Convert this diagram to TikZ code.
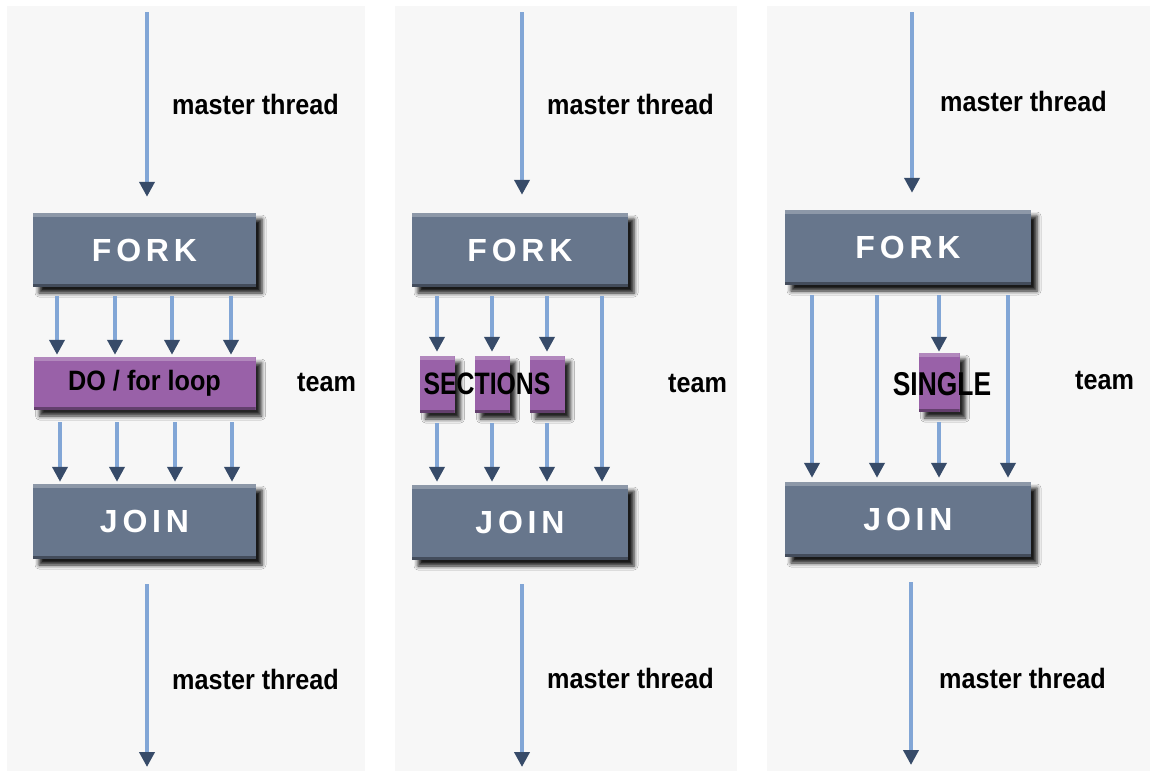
\documentclass[tikz,border=0pt]{standalone}
\usepackage{fontspec}
\setmainfont{Liberation Sans}
\newfontfamily\labelfont[FakeStretch=0.9]{Liberation Sans}
\newfontfamily\narrowfont[FakeStretch=0.8]{Liberation Sans}
\newfontfamily\boxfont[LetterSpace=15]{Liberation Sans}
\usetikzlibrary{arrows.meta,shadows.blur}

\definecolor{panelgray}{RGB}{247,247,247}
\definecolor{slate}{RGB}{103,118,140}
\definecolor{teampurple}{RGB}{153,97,168}
\definecolor{threadblue}{RGB}{130,166,214}
\definecolor{tipblue}{RGB}{55,75,105}

\tikzset{
  bevel/.style={path picture={
      \fill[white,opacity=0.25] (path picture bounding box.north west) rectangle ([yshift=-4pt]path picture bounding box.north east);
      \fill[black,opacity=0.35] (path picture bounding box.south west) rectangle ([yshift=3pt]path picture bounding box.south east);}},
  phase/.style={fill=slate, bevel, inner sep=0pt, text=white,
      font=\boxfont\bfseries\fontsize{32}{34}\selectfont,
      blur shadow={shadow xshift=6pt, shadow yshift=-6pt, shadow blur radius=4pt, shadow opacity=90}},
  work/.style={fill=teampurple, bevel, inner sep=0pt,
      font=\labelfont\bfseries\fontsize{28}{30}\selectfont,
      blur shadow={shadow xshift=6pt, shadow yshift=-6pt, shadow blur radius=4pt, shadow opacity=85}},
  thread/.style={line width=4pt, threadblue, -{Triangle[width=15pt,length=15pt,color=tipblue]}},
  caption/.style={font=\labelfont\bfseries\fontsize{28}{30}\selectfont, anchor=west, inner sep=0pt},
}

\begin{document}
\begin{tikzpicture}[x=1pt,y=-1pt]

    % Page and the three grey panels
    \fill[white] (0,0) rectangle (1150,771);
    \useasboundingbox (0,0) rectangle (1150,771);
    \fill[panelgray] (7,6) rectangle (365,771);
    \fill[panelgray] (395,6) rectangle (737,771);
    \fill[panelgray] (767,6) rectangle (1150,771);

    % ---------- Panel 1: DO / for loop ----------
    \node[phase, minimum width=223pt, minimum height=74pt] (fork1) at (144.5,250) {FORK};
    \node[work, minimum width=222pt, minimum height=53pt] (do1) at (144.5,383.5) {DO / for loop};
    \node[phase, minimum width=223pt, minimum height=75pt] (join1) at (144.5,521.5) {JOIN};

    \coordinate (in1) at (147,12);
    \coordinate (out1) at (147,767);
    \draw[thread, shorten >=16pt] (in1) -- (in1 |- fork1.north);
    \draw[thread, shorten <=25pt] (out1 |- join1.south) -- (out1);

    % team threads above and below the loop
    \foreach \dx in {-87.5,-29.5,27.5,86.5}
      \draw[thread, shorten <=9pt, shorten >=2pt] ([xshift=\dx pt]fork1.south) -- ([xshift=\dx pt]do1.north);
    \foreach \dx in {-84.5,-27.5,30.5,87.5}
      \draw[thread, shorten <=12pt, shorten >=2pt] ([xshift=\dx pt]do1.south) -- ([xshift=\dx pt]join1.north);

    \node[caption] (mt1) at (172,104) {master thread};
    \node[caption] (team1) at (297,382) {team};
    \node[caption] (mb1) at (172,679) {master thread};

    % ---------- Panel 2: SECTIONS ----------
    \node[phase, minimum width=216pt, minimum height=74pt] (fork2) at (520,250) {FORK};
    \node[work, minimum width=35pt, minimum height=57pt] (sec1) at (437,384.5) {};
    \node[work, minimum width=35pt, minimum height=57pt] (sec2) at (492,384.5) {};
    \node[work, minimum width=35pt, minimum height=57pt] (sec3) at (547,384.5) {};
    \node[phase, minimum width=216pt, minimum height=75pt] (join2) at (520,522.5) {JOIN};
    \node[font=\narrowfont\bfseries\fontsize{31}{33}\selectfont, inner sep=0pt] (sectext) at (487,384) {SECTIONS};

    \coordinate (in2) at (522,12);
    \coordinate (out2) at (522,767);
    \draw[thread, shorten >=18pt] (in2) -- (in2 |- fork2.north);
    \draw[thread, shorten <=24pt] (out2 |- join2.south) -- (out2);

    \foreach \i/\dx in {1/-83,2/-28,3/27} {
      \draw[thread, shorten <=9pt, shorten >=4pt] ([xshift=\dx pt]fork2.south) -- (sec\i.north);
      \draw[thread, shorten <=10pt, shorten >=3pt] (sec\i.south) -- ([xshift=\dx pt]join2.north);
    }
    \draw[thread, shorten <=9pt, shorten >=3pt] ([xshift=82pt]fork2.south) -- ([xshift=82pt]join2.north);

    \node[caption] (mt2) at (547,104) {master thread};
    \node[caption] (team2) at (668,383) {team};
    \node[caption] (mb2) at (547,678) {master thread};

    % ---------- Panel 3: SINGLE ----------
    \node[phase, minimum width=246pt, minimum height=75pt] (fork3) at (908,247.5) {FORK};
    \node[work, minimum width=41pt, minimum height=59pt] (single) at (939,382.5) {};
    \node[phase, minimum width=246pt, minimum height=75pt] (join3) at (908,519.5) {JOIN};
    \node[font=\narrowfont\bfseries\fontsize{33}{35}\selectfont, inner sep=0pt] (singletext) at (942,384) {SINGLE};

    \coordinate (in3) at (912,12);
    \coordinate (out3) at (911,765);
    \draw[thread, shorten >=17pt] (in3) -- (in3 |- fork3.north);
    \draw[thread, shorten <=25pt] (out3 |- join3.south) -- (out3);

    \foreach \dx in {-96,-31,100}
      \draw[thread, shorten <=10pt, shorten >=4pt] ([xshift=\dx pt]fork3.south) -- ([xshift=\dx pt]join3.north);
    \draw[thread, shorten <=10pt, shorten >=1pt] ([xshift=31pt]fork3.south) -- (single.north);
    \draw[thread, shorten <=10pt, shorten >=4pt] (single.south) -- ([xshift=31pt]join3.north);

    \node[caption] (mt3) at (940,101) {master thread};
    \node[caption] (team3) at (1075,380) {team};
    \node[caption] (mb3) at (939,678) {master thread};

\end{tikzpicture}
\end{document}
